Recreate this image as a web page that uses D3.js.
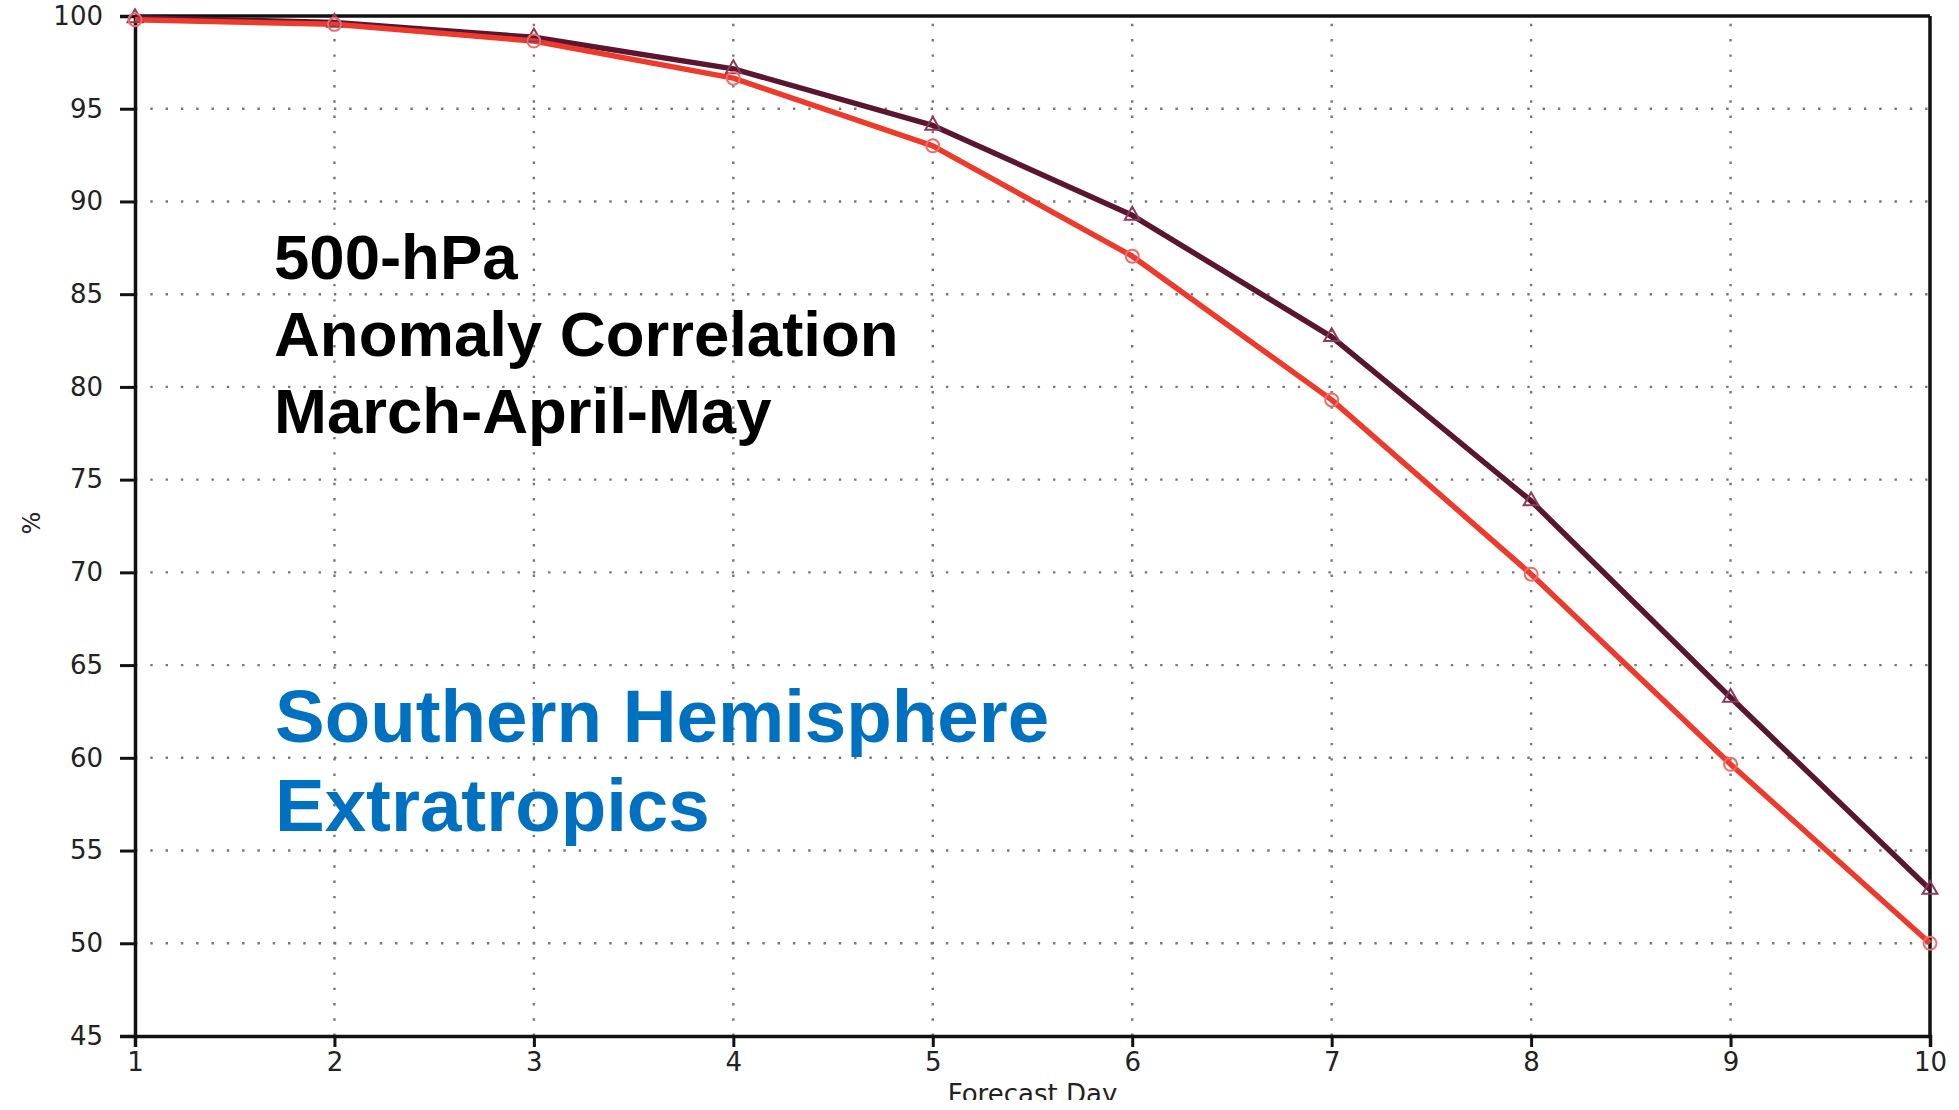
<!DOCTYPE html>
<html>
<head>
<meta charset="utf-8">
<script src="https://cdn.jsdelivr.net/npm/d3@7"></script>
<style>
  html, body { margin: 0; padding: 0; background: #fff; }
  svg { display: block; }
</style>
</head>
<body>
<script>
// ---- data ----
const days = [1, 2, 3, 4, 5, 6, 7, 8, 9, 10];
const darkSeries = [99.9, 99.65, 98.85, 97.15, 94.1, 89.25, 82.7, 73.85, 63.25, 52.9];
const redSeries  = [99.8, 99.55, 98.65, 96.65, 93.0, 87.05, 79.3, 69.9, 59.65, 50.0];
const yTicks = [45, 50, 55, 60, 65, 70, 75, 80, 85, 90, 95, 100];
const xTicks = [1, 2, 3, 4, 5, 6, 7, 8, 9, 10];
const titleLines = ["500-hPa", "Anomaly Correlation", "March-April-May"];
const regionLines = ["Southern Hemisphere", "Extratropics"];
const xLabel = "Forecast Day";
const yLabel = "%";

// ---- layout ----
const W = 1959, H = 1110;
const x = d3.scaleLinear().domain([1, 10]).range([135, 1930]);
const y = d3.scaleLinear().domain([45, 100]).range([1036, 16]);

const svg = d3.select("body").append("svg").attr("width", W).attr("height", H);
svg.append("defs").append("clipPath").attr("id", "pageclip")
  .append("rect").attr("x", 0).attr("y", 0).attr("width", W).attr("height", 1100);
const root = svg.append("g").attr("clip-path", "url(#pageclip)");

// grid
const grid = root.append("g");
grid.selectAll("line.h").data(yTicks.filter(v => v > 45 && v < 100)).join("line")
  .attr("x1", x(1)).attr("x2", x(10))
  .attr("y1", d => y(d)).attr("y2", d => y(d))
  .attr("stroke", "#777").attr("stroke-width", 2.4)
  .attr("stroke-dasharray", "2.4 12.9");
grid.selectAll("line.v").data(xTicks.filter(v => v > 1 && v < 10)).join("line")
  .attr("x1", d => x(d)).attr("x2", d => x(d))
  .attr("y1", y(45)).attr("y2", y(100))
  .attr("stroke", "#777").attr("stroke-width", 2.4)
  .attr("stroke-dasharray", "2.4 12.9");

// axes
const fontFam = "'DejaVu Sans', sans-serif";
const yAxis = root.append("g").attr("transform", `translate(${x(1)},0)`)
  .call(d3.axisLeft(y).tickValues(yTicks).tickSize(15).tickPadding(17));
const xAxis = root.append("g").attr("transform", `translate(0,${y(45)})`)
  .call(d3.axisBottom(x).tickValues(xTicks).tickSize(11).tickPadding(6));
[yAxis, xAxis].forEach(a => {
  a.select(".domain").attr("stroke", "#111").attr("stroke-width", 3.5);
  a.selectAll(".tick line").attr("stroke", "#111").attr("stroke-width", 3);
  a.selectAll(".tick text").attr("fill", "#222")
    .style("font-family", fontFam).style("font-size", "26px");
});
// frame top and right
root.append("line").attr("x1", x(1)).attr("x2", x(10)).attr("y1", y(100)).attr("y2", y(100))
  .attr("stroke", "#111").attr("stroke-width", 3.5);
root.append("line").attr("x1", x(10)).attr("x2", x(10)).attr("y1", y(100)).attr("y2", y(45))
  .attr("stroke", "#111").attr("stroke-width", 3.5);

// axis labels
root.append("text").attr("x", (x(1) + x(10)) / 2).attr("y", 1103)
  .attr("text-anchor", "middle").attr("fill", "#222")
  .style("font-family", fontFam).style("font-size", "26px").text(xLabel);
root.append("text").attr("transform", `translate(40,523) rotate(-90)`)
  .attr("text-anchor", "middle").attr("fill", "#222")
  .style("font-family", fontFam).style("font-size", "24px").text(yLabel);

// lines
const lineGen = vals => d3.line().x((d, i) => x(days[i])).y(d => y(d))(vals);
const darkColor = "#5a1530", redColor = "#ee3a2c";
root.append("path").attr("d", lineGen(darkSeries)).attr("fill", "none")
  .attr("stroke", darkColor).attr("stroke-width", 5.5).attr("stroke-linejoin", "round");
root.append("path").attr("d", lineGen(redSeries)).attr("fill", "none")
  .attr("stroke", redColor).attr("stroke-width", 5.5).attr("stroke-linejoin", "round");

// markers
const tri = d3.symbol().type(d3.symbolTriangle).size(95);
root.selectAll("path.tri").data(darkSeries).join("path")
  .attr("transform", (d, i) => `translate(${x(days[i])},${y(d)})`)
  .attr("d", tri()).attr("fill", "none").attr("stroke", "#8a3a5a").attr("stroke-width", 2);
root.selectAll("circle.mk").data(redSeries).join("circle")
  .attr("cx", (d, i) => x(days[i])).attr("cy", d => y(d)).attr("r", 6.5)
  .attr("fill", "none").attr("stroke", "#f06a6a").attr("stroke-width", 2);

// annotation text
const boldFam = "'Liberation Sans', Arial, sans-serif";
const tb = [279, 356, 433];
root.selectAll("text.title").data(titleLines).join("text")
  .attr("x", 274).attr("y", (d, i) => tb[i])
  .attr("fill", "#000").style("font-family", boldFam).style("font-weight", "bold")
  .style("font-size", "63.5px").text(d => d);
const rb = [742, 831];
root.selectAll("text.region").data(regionLines).join("text")
  .attr("x", 275).attr("y", (d, i) => rb[i])
  .attr("fill", "#0070c0").style("font-family", boldFam).style("font-weight", "bold")
  .style("font-size", "74.5px").text(d => d);
</script>
</body>
</html>
